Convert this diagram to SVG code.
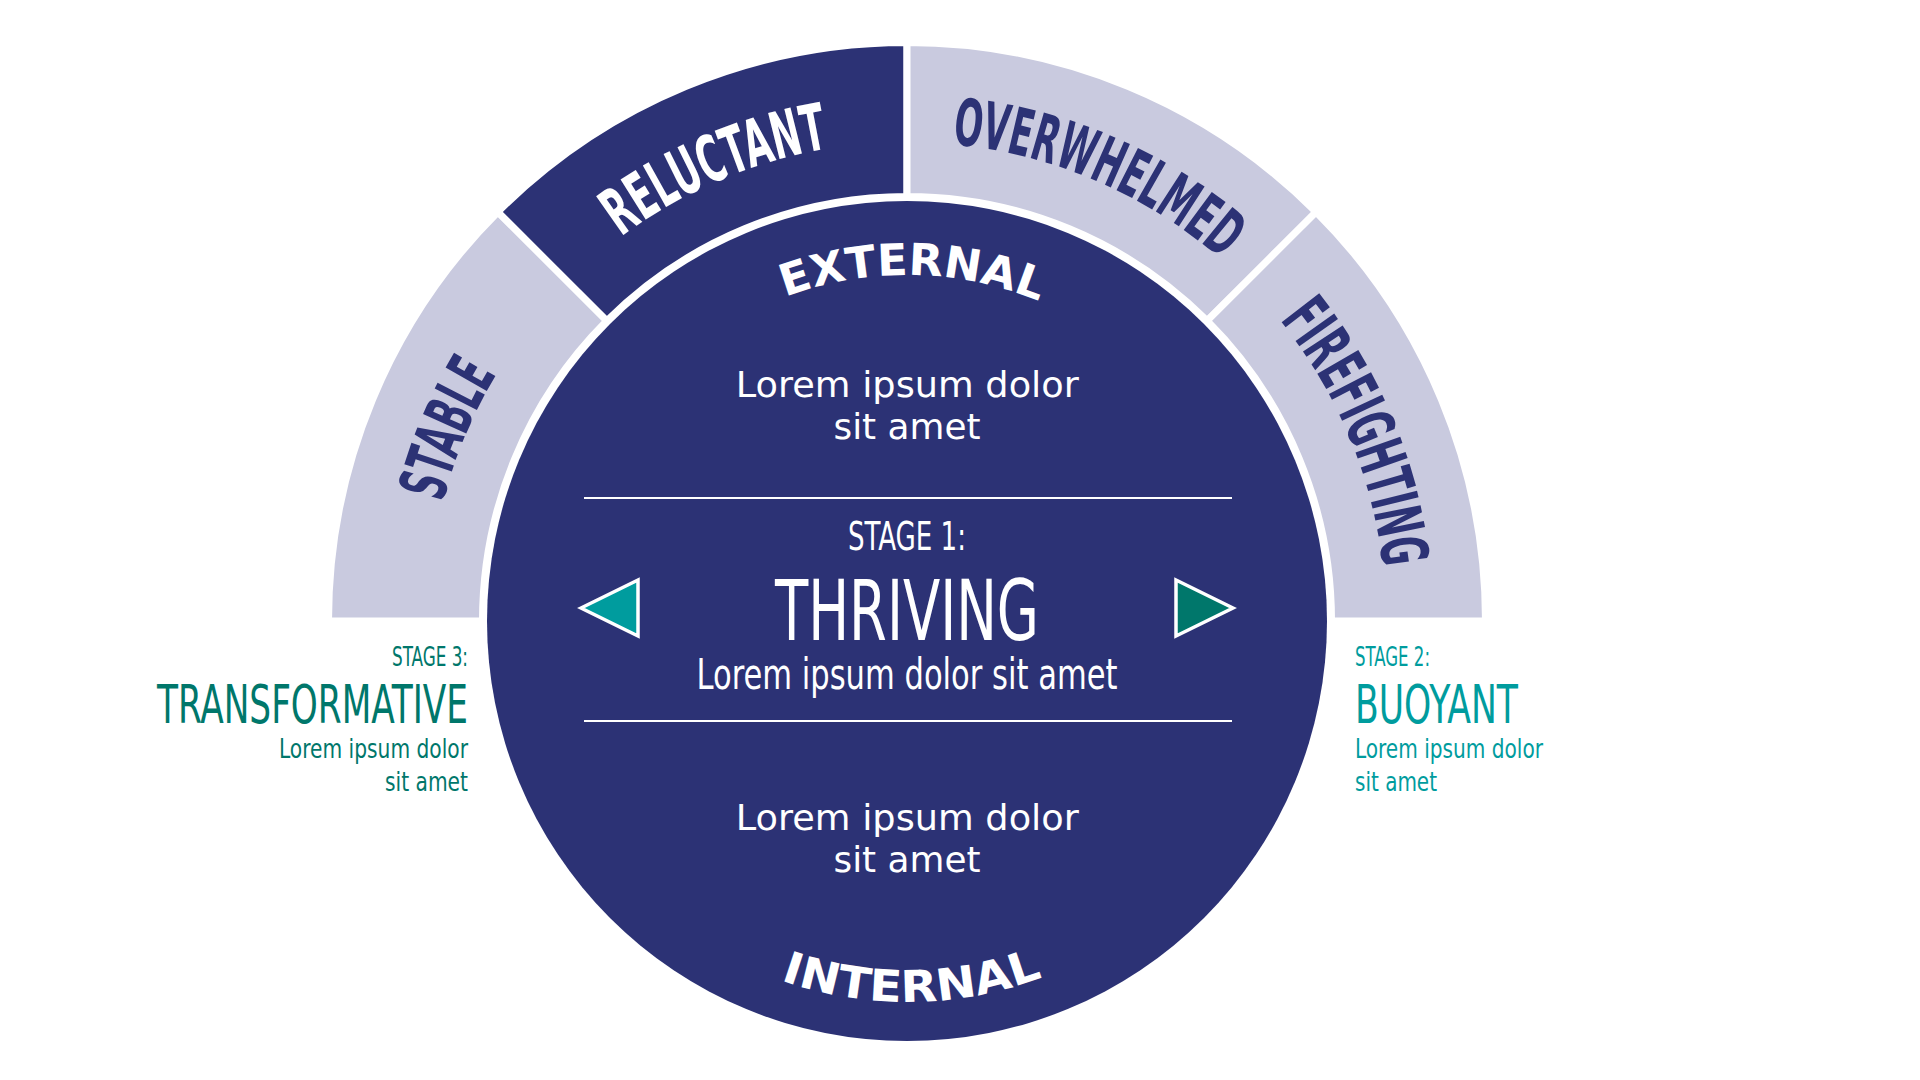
<svg xmlns="http://www.w3.org/2000/svg" xmlns:xlink="http://www.w3.org/1999/xlink" width="1920" height="1080" viewBox="0 0 1920 1080">
  <style>
    .navy { fill: #2C3275; }
    .lav { fill: #C9CADF; }
    .seg { stroke: #FFFFFF; stroke-width: 7; stroke-linejoin: miter; }
    .ring { font-family: "Liberation Sans Narrow", "DejaVu Sans Condensed", "Roboto Condensed", "Liberation Sans", sans-serif; font-weight: bold; font-size: 65px; }
    .cond { font-family: "Liberation Sans Narrow", "DejaVu Sans Condensed", "Roboto Condensed", "Liberation Sans", sans-serif; font-weight: normal; }
    .wide { font-family: "DejaVu Sans", "Liberation Sans", sans-serif; font-weight: bold; font-size: 44px; fill: #FFFFFF; }
    .body { font-family: "DejaVu Sans", "Liberation Sans", sans-serif; font-weight: normal; font-size: 36px; fill: #FFFFFF; }
    .w { fill: #FFFFFF; }
    .teal { fill: #009C9E; }
    .green { fill: #00776B; }
    .rule { stroke: #FFFFFF; stroke-width: 2; fill: none; }
    .tri { stroke: #FFFFFF; stroke-width: 3.5; stroke-linejoin: miter; }
  </style>
  <defs>
    <path id="ringArc" d="M 428,621 A 479 479 0 0 1 1386,621"/>
    <path id="extArc" d="M 561,621 A 346 346 0 0 1 1253,621"/>
    <path id="intArc" d="M 526,621 A 381 381 0 0 0 1288,621"/>
  </defs>
  <rect x="0" y="0" width="1920" height="1080" fill="#FFFFFF"/>

  <g id="seg-stable">
    <path class="seg lav" d="M 328.5,621 A 578.5 578.5 0 0 1 497.94,211.94 L 606.83,320.83 A 424.5 424.5 0 0 0 482.5,621 Z"/>
    <text class="ring navy"><textPath xlink:href="#ringArc" href="#ringArc" startOffset="12.6%" text-anchor="middle" textLength="140" lengthAdjust="spacingAndGlyphs">STABLE</textPath></text>
  </g>
  <g id="seg-reluctant">
    <path class="seg navy" d="M 497.94,211.94 A 578.5 578.5 0 0 1 907,42.5 L 907,196.5 A 424.5 424.5 0 0 0 606.83,320.83 Z"/>
    <text class="ring w"><textPath xlink:href="#ringArc" href="#ringArc" startOffset="37.2%" text-anchor="middle" textLength="228" lengthAdjust="spacingAndGlyphs">RELUCTANT</textPath></text>
  </g>
  <g id="seg-overwhelmed">
    <path class="seg lav" d="M 907,42.5 A 578.5 578.5 0 0 1 1316.06,211.94 L 1207.17,320.83 A 424.5 424.5 0 0 0 907,196.5 Z"/>
    <text class="ring navy"><textPath xlink:href="#ringArc" href="#ringArc" startOffset="62.9%" text-anchor="middle" textLength="298" lengthAdjust="spacingAndGlyphs">OVERWHELMED</textPath></text>
  </g>
  <g id="seg-firefighting">
    <path class="seg lav" d="M 1316.06,211.94 A 578.5 578.5 0 0 1 1485.5,621 L 1331.5,621 A 424.5 424.5 0 0 0 1207.17,320.83 Z"/>
    <text class="ring navy"><textPath xlink:href="#ringArc" href="#ringArc" startOffset="87.4%" text-anchor="middle" textLength="272" lengthAdjust="spacingAndGlyphs">FIREFIGHTING</textPath></text>
  </g>

  <g id="core">
    <circle class="navy" cx="907" cy="621" r="420"/>
    <text class="wide"><textPath xlink:href="#extArc" href="#extArc" startOffset="50.5%" text-anchor="middle" textLength="260" lengthAdjust="spacingAndGlyphs">EXTERNAL</textPath></text>
    <text class="wide"><textPath xlink:href="#intArc" href="#intArc" startOffset="50.4%" text-anchor="middle" textLength="268" lengthAdjust="spacingAndGlyphs">INTERNAL</textPath></text>
    <text class="body" text-anchor="middle">
      <tspan x="913" y="397" textLength="343" lengthAdjust="spacingAndGlyphs">Lorem ipsum dolor</tspan>
      <tspan x="907" y="439" textLength="147" lengthAdjust="spacingAndGlyphs">sit amet</tspan>
    </text>
    <line class="rule" x1="584" y1="498" x2="1232" y2="498"/>
    <line class="rule" x1="584" y1="721" x2="1232" y2="721"/>
    <text class="body" text-anchor="middle">
      <tspan x="913" y="830" textLength="343" lengthAdjust="spacingAndGlyphs">Lorem ipsum dolor</tspan>
      <tspan x="907" y="872" textLength="147" lengthAdjust="spacingAndGlyphs">sit amet</tspan>
    </text>
  </g>

  <g id="stage1">
    <text class="cond w" x="907" y="550" font-size="39" text-anchor="middle" textLength="118" lengthAdjust="spacingAndGlyphs">STAGE 1:</text>
    <text class="cond w" x="907" y="640" font-size="84" text-anchor="middle" textLength="264" lengthAdjust="spacingAndGlyphs">THRIVING</text>
    <text class="cond w" x="907" y="689" font-size="43" text-anchor="middle" textLength="421" lengthAdjust="spacingAndGlyphs">Lorem ipsum dolor sit amet</text>
  </g>

  <g id="arrow-left">
    <polygon class="tri teal" points="581,608 638,580 638,636"/>
  </g>
  <g id="arrow-right">
    <polygon class="tri green" points="1233,608 1176,580 1176,636"/>
  </g>

  <g id="stage3">
    <text class="cond green" x="468" y="666" font-size="27" text-anchor="end" textLength="76" lengthAdjust="spacingAndGlyphs">STAGE 3:</text>
    <text class="cond green" x="468" y="723" font-size="53" text-anchor="end" textLength="311" lengthAdjust="spacingAndGlyphs">TRANSFORMATIVE</text>
    <text class="cond green" x="468" y="758" font-size="27" text-anchor="end" textLength="189" lengthAdjust="spacingAndGlyphs">Lorem ipsum dolor</text>
    <text class="cond green" x="468" y="791" font-size="27" text-anchor="end" textLength="83" lengthAdjust="spacingAndGlyphs">sit amet</text>
  </g>

  <g id="stage2">
    <text class="cond teal" x="1355" y="666" font-size="27" textLength="75" lengthAdjust="spacingAndGlyphs">STAGE 2:</text>
    <text class="cond teal" x="1355" y="723" font-size="53" textLength="163" lengthAdjust="spacingAndGlyphs">BUOYANT</text>
    <text class="cond teal" x="1355" y="758" font-size="27" textLength="188" lengthAdjust="spacingAndGlyphs">Lorem ipsum dolor</text>
    <text class="cond teal" x="1355" y="791" font-size="27" textLength="82" lengthAdjust="spacingAndGlyphs">sit amet</text>
  </g>
</svg>
